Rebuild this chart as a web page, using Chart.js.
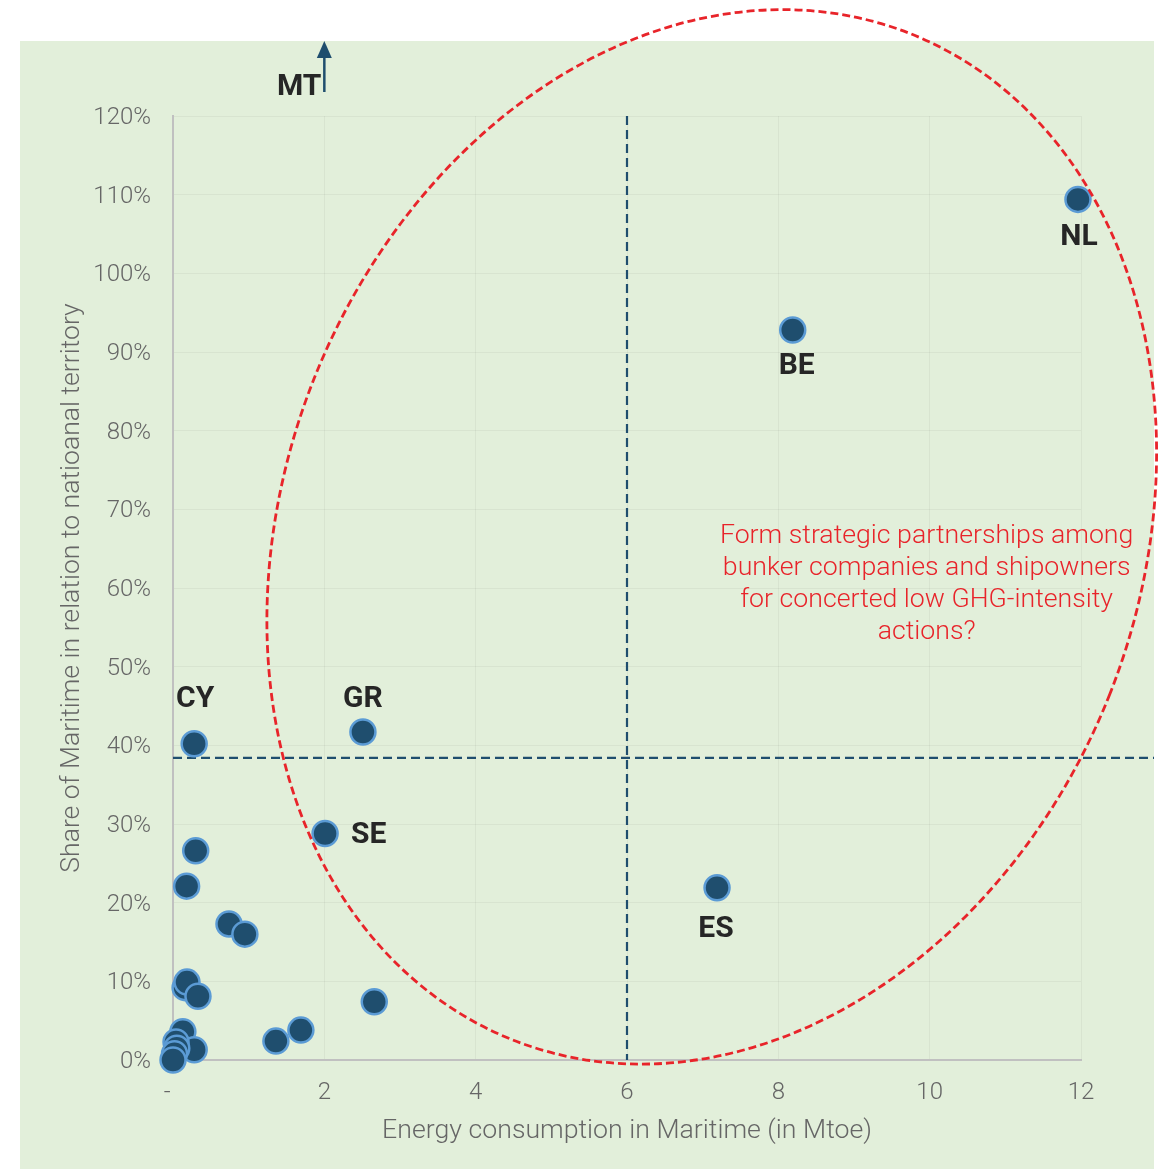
<!DOCTYPE html>
<html>
<head>
<meta charset="utf-8">
<script src="https://cdn.jsdelivr.net/npm/chart.js@4.4.1/dist/chart.umd.min.js"></script>
<style>
  html, body { margin: 0; padding: 0; background: #ffffff; overflow: hidden; }
  #wrap { position: relative; width: 1167px; height: 1169px; }
</style>
</head>
<body>
<div id="wrap"><canvas id="chart"></canvas></div>
<script>
// Energy consumption in maritime (Mtoe) vs. share of maritime in national territory (%)
const energyMtoe = [11.96, 8.19, 7.19, 2.51, 2.01, 0.28,
                    0.30, 0.18, 0.74, 0.95, 0.16, 0.185, 0.33, 2.66, 1.69, 1.36, 0.13, 0.28, 0.04, 0.05, 0.02, 0.0];
const maritimeShare = [109.4, 92.8, 21.9, 41.7, 28.8, 40.2,
                       26.6, 22.1, 17.3, 16.0, 9.2, 9.9, 8.1, 7.4, 3.8, 2.4, 3.6, 1.3, 2.3, 1.5, 0.8, 0.0];
const countryCodes = ['NL', 'BE', 'ES', 'GR', 'SE', 'CY',
                      '', '', '', '', '', '', '', '', '', '', '', '', '', '', '', ''];
// label offset from its point, in pixels [dx, dy]
const labelOffset = [[1, 38], [4, 37], [-1, 42], [0, -32], [26, 2], [1, -44]];

const xTicks = [0, 2, 4, 6, 8, 10, 12];
const yTicks = [0, 10, 20, 30, 40, 50, 60, 70, 80, 90, 100, 110, 120];

// Quadrant thresholds
const energyThreshold = 6;
const shareThreshold = 38.4;

// Off-scale country (share above 120%)
const offScale = { code: 'MT', energy: 2.0 };

// Highlighted group: centre in data units, outline shape in pixels
const groupEllipse = { cx: 7.12, cy: 66.5 };
const ellipseShape = { rx: 428, ry: 541, tilt: 21.5 };
const groupNote = ['Form strategic partnerships among', 'bunker companies and shipowners',
                   'for concerted low GHG-intensity', 'actions?'];
const notePos = { x: 9.96, y: 66.6 };

const FONT = 'Roboto, "Noto Sans", sans-serif';
const DARK_BLUE = '#1f4e6e';
const RED = '#e8242a';
const BG = { left: 20, top: 41, right: 1154, bottom: 1169 };

const points = energyMtoe.map((x, i) => ({ x: x, y: maritimeShare[i] }));

const backgroundPlugin = {
  id: 'panelBackground',
  beforeDraw(chart) {
    const ctx = chart.ctx;
    ctx.save();
    ctx.fillStyle = '#e2efda';
    ctx.fillRect(BG.left, BG.top, BG.right - BG.left, BG.bottom - BG.top);
    ctx.restore();
  }
};

const thresholdPlugin = {
  id: 'thresholds',
  beforeDatasetsDraw(chart) {
    const { ctx, chartArea, scales } = chart;
    const x = scales.x.getPixelForValue(energyThreshold);
    const y = scales.y.getPixelForValue(shareThreshold);
    ctx.save();
    ctx.strokeStyle = DARK_BLUE;
    ctx.lineWidth = 2.2;
    ctx.setLineDash([9, 5]);
    ctx.beginPath();
    ctx.moveTo(x, chartArea.top);
    ctx.lineTo(x, chartArea.bottom);
    ctx.moveTo(chartArea.left, y);
    ctx.lineTo(BG.right, y);
    ctx.stroke();
    ctx.restore();
  }
};

const annotationPlugin = {
  id: 'annotations',
  afterDatasetsDraw(chart) {
    const { ctx, chartArea, scales } = chart;
    const meta = chart.getDatasetMeta(0);
    ctx.save();

    // country codes
    ctx.fillStyle = '#262626';
    ctx.font = 'bold 30px ' + FONT;
    ctx.textBaseline = 'middle';
    meta.data.forEach((pt, i) => {
      const code = countryCodes[i];
      if (!code) return;
      const [dx, dy] = labelOffset[i];
      ctx.textAlign = dx > 10 ? 'left' : 'center';
      ctx.fillText(code, pt.x + dx, pt.y + dy);
    });

    // off-scale country with arrow
    const ax = scales.x.getPixelForValue(offScale.energy);
    const top = chartArea.top;
    ctx.strokeStyle = DARK_BLUE;
    ctx.fillStyle = DARK_BLUE;
    ctx.lineWidth = 2.5;
    ctx.beginPath();
    ctx.moveTo(ax, top - 24);
    ctx.lineTo(ax, top - 60);
    ctx.stroke();
    ctx.beginPath();
    ctx.moveTo(ax, top - 75);
    ctx.lineTo(ax - 7.5, top - 58);
    ctx.lineTo(ax + 7.5, top - 58);
    ctx.closePath();
    ctx.fill();
    ctx.fillStyle = '#262626';
    ctx.textAlign = 'right';
    ctx.fillText(offScale.code, ax - 3, top - 29);

    // highlighted group
    const cx = scales.x.getPixelForValue(groupEllipse.cx);
    const cy = scales.y.getPixelForValue(groupEllipse.cy);
    ctx.strokeStyle = RED;
    ctx.lineWidth = 2.8;
    ctx.setLineDash([8, 4]);
    ctx.beginPath();
    ctx.ellipse(cx, cy, ellipseShape.rx, ellipseShape.ry, ellipseShape.tilt * Math.PI / 180, 0, Math.PI * 2);
    ctx.stroke();
    ctx.setLineDash([]);

    const nx = scales.x.getPixelForValue(notePos.x);
    const ny = scales.y.getPixelForValue(notePos.y);
    ctx.fillStyle = RED;
    ctx.font = '300 26.7px ' + FONT;
    ctx.textAlign = 'center';
    groupNote.forEach((line, i) => ctx.fillText(line, nx, ny + i * 32));
    ctx.restore();
  }
};

new Chart(document.getElementById('chart'), {
  type: 'scatter',
  data: {
    datasets: [{
      data: points,
      clip: false,
      backgroundColor: DARK_BLUE,
      borderColor: '#5b9bd5',
      borderWidth: 2.5,
      pointRadius: 12.5,
      pointHoverRadius: 12.5
    }]
  },
  options: {
    responsive: true,
    maintainAspectRatio: false,
    animation: false,
    layout: { padding: { top: 116, right: 86, bottom: 0, left: 0 } },
    plugins: { legend: { display: false }, tooltip: { enabled: false } },
    scales: {
      x: {
        type: 'linear',
        min: 0, max: 12,
        afterBuildTicks(scale) { scale.ticks = xTicks.map(v => ({ value: v })); },
        afterFit(scale) { scale.height = 109; },
        grid: { color: 'rgba(0,0,0,0.045)', drawTicks: false },
        border: { color: '#c0c0c0', width: 2 },
        ticks: {
          padding: 19,
          color: '#666666',
          font: { family: FONT, size: 24, weight: '300' },
          callback: v => (v === 0 ? '-  ' : String(v))
        },
        title: {
          display: true,
          text: 'Energy consumption in Maritime (in Mtoe)',
          color: '#666666',
          font: { family: FONT, size: 26.7, weight: '300' },
          padding: { top: 0, bottom: 22 }
        }
      },
      y: {
        type: 'linear',
        min: 0, max: 120,
        afterBuildTicks(scale) { scale.ticks = yTicks.map(v => ({ value: v })); },
        afterFit(scale) { scale.width = 173; },
        grid: { color: 'rgba(0,0,0,0.045)', drawTicks: false },
        border: { color: '#c0c0c0', width: 2 },
        ticks: {
          padding: 22,
          labelOffset: 2,
          color: '#666666',
          font: { family: FONT, size: 24, weight: '300' },
          callback: v => v + '%'
        },
        title: {
          display: true,
          text: 'Share of Maritime in relation to natioanal territory',
          color: '#666666',
          font: { family: FONT, size: 26.6, weight: '300' },
          padding: { top: 56, bottom: 0 }
        }
      }
    }
  },
  plugins: [backgroundPlugin, thresholdPlugin, annotationPlugin]
});
</script>
</body>
</html>
